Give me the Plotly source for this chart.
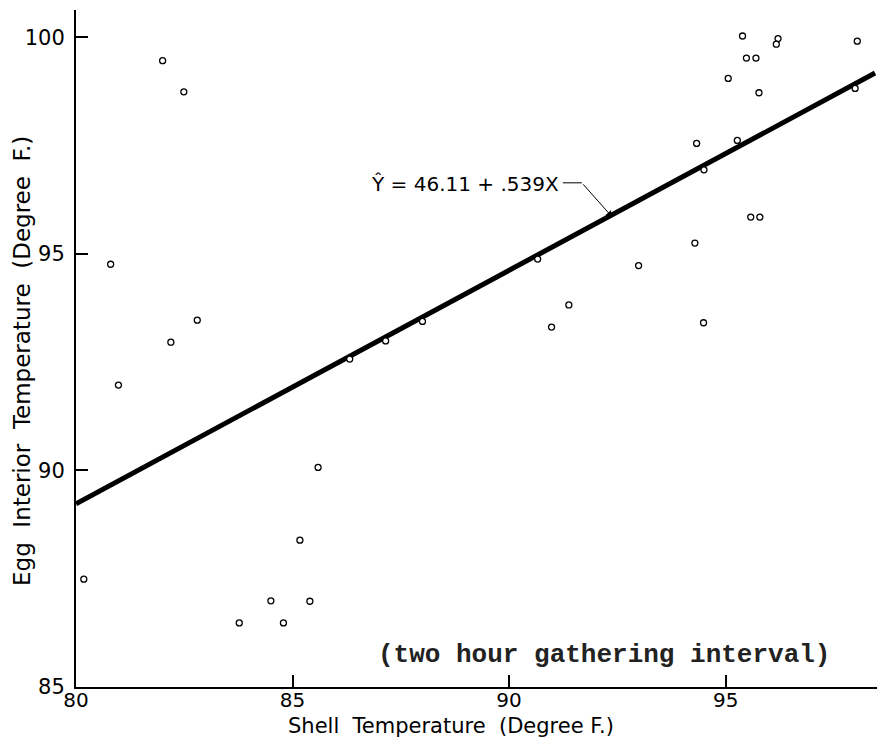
import plotly.graph_objects as go

# Data
shell_temp = [82.0, 82.49, 80.80, 82.80, 82.19, 80.98, 80.18, 84.5, 83.77, 84.79,
              85.17, 85.59, 85.4, 86.32, 87.15, 88.0, 90.66, 92.99, 91.38, 90.98,
              95.39, 96.21, 96.17, 98.04, 95.48, 95.70, 95.06, 95.77, 94.33, 95.27,
              94.5, 97.99, 95.58, 95.79, 94.29, 94.49]
egg_temp = [99.46, 98.74, 94.76, 93.47, 92.96, 91.97, 87.49, 86.99, 86.48, 86.48,
            88.39, 90.07, 86.98, 92.57, 92.99, 93.44, 94.88, 94.73, 93.82, 93.31,
            100.03, 99.97, 99.84, 99.91, 99.52, 99.52, 99.05, 98.72, 97.55, 97.62,
            96.94, 98.82, 95.85, 95.85, 95.25, 93.41]

intercept = 46.11
slope = 0.539
line_x = [80.0, 98.45]
line_y = [intercept + slope * v for v in line_x]

x_ticks = [80, 85, 90, 95]
y_ticks = [85, 90, 95, 100]

equation_text = "Ŷ = 46.11 + .539X"
note_text = "(two hour gathering interval)"
x_title = "Shell  Temperature  (Degree F.)"
y_title = "Egg  Interior  Temperature  (Degree  F.)"

font_main = "DejaVu Sans"

# page offset (body margin) compensation
OFF = 8
W, H = 885 - OFF, 748 - OFF
L, T, B, R = 76 - OFF, 10 - OFF, 61, 0
plot_w = W - L - R
plot_h = H - T - B

fig = go.Figure()
fig.add_trace(go.Scatter(x=line_x, y=line_y, mode="lines",
                         line=dict(color="black", width=5), hoverinfo="skip"))
fig.add_trace(go.Scatter(x=shell_temp, y=egg_temp, mode="markers",
                         marker=dict(symbol="circle", size=6, color="white",
                                     line=dict(color="black", width=1.3))))

arrow_x = 92.35
arrow_y = intercept + slope * arrow_x
fig.add_shape(type="line", xref="x", yref="y", x0=91.24, x1=91.68, y0=96.64, y1=96.64,
              line=dict(color="black", width=1))
fig.add_annotation(x=arrow_x, y=arrow_y, ax=91.68, ay=96.64, axref="x", ayref="y",
                   xref="x", yref="y", text="", showarrow=True, arrowhead=1,
                   arrowsize=1.3, arrowwidth=1, arrowcolor="black")
fig.add_annotation(x=91.2, y=96.62, xref="x", yref="y", text=equation_text,
                   showarrow=False, xanchor="right", yanchor="middle",
                   font=dict(family=font_main, size=20, color="black"))
fig.add_annotation(x=92.2, y=85.74, xref="x", yref="y", text="<b>" + note_text + "</b>",
                   showarrow=False, xanchor="center", yanchor="middle",
                   font=dict(family="Liberation Mono", size=26, color="#222"))
# x title centred at page x=451, y=726
fig.add_annotation(x=(451 - 76) / plot_w, y=-(726 - 687) / plot_h,
                   xref="paper", yref="paper", text=x_title,
                   showarrow=False, xanchor="center", yanchor="middle",
                   font=dict(family=font_main, size=21, color="black"))
# y title centred at page x=22, y=361
fig.add_annotation(x=-(76 - 22) / plot_w, y=(687 - 361) / plot_h,
                   xref="paper", yref="paper", text=y_title,
                   textangle=-90, showarrow=False, xanchor="center", yanchor="middle",
                   font=dict(family=font_main, size=23, color="black"))

fig.update_layout(
    width=W, height=H,
    margin=dict(l=L, r=R, t=T, b=B),
    paper_bgcolor="white", plot_bgcolor="white",
    showlegend=False,
    xaxis=dict(range=[80, 98.68], tickvals=x_ticks, ticks="inside", ticklen=12,
               tickwidth=1.5, tickcolor="black", showline=True, linecolor="black",
               linewidth=2, showgrid=False, zeroline=False, ticklabelstandoff=-6,
               tickfont=dict(family=font_main, size=20, color="black")),
    yaxis=dict(range=[85, 100.63], tickvals=y_ticks, ticks="inside", ticklen=12,
               tickwidth=1.5, tickcolor="black", showline=True, linecolor="black",
               linewidth=2, showgrid=False, zeroline=False, ticklabelstandoff=5,
               tickfont=dict(family=font_main, size=21, color="black")),
)

fig.write_html("out.html")
